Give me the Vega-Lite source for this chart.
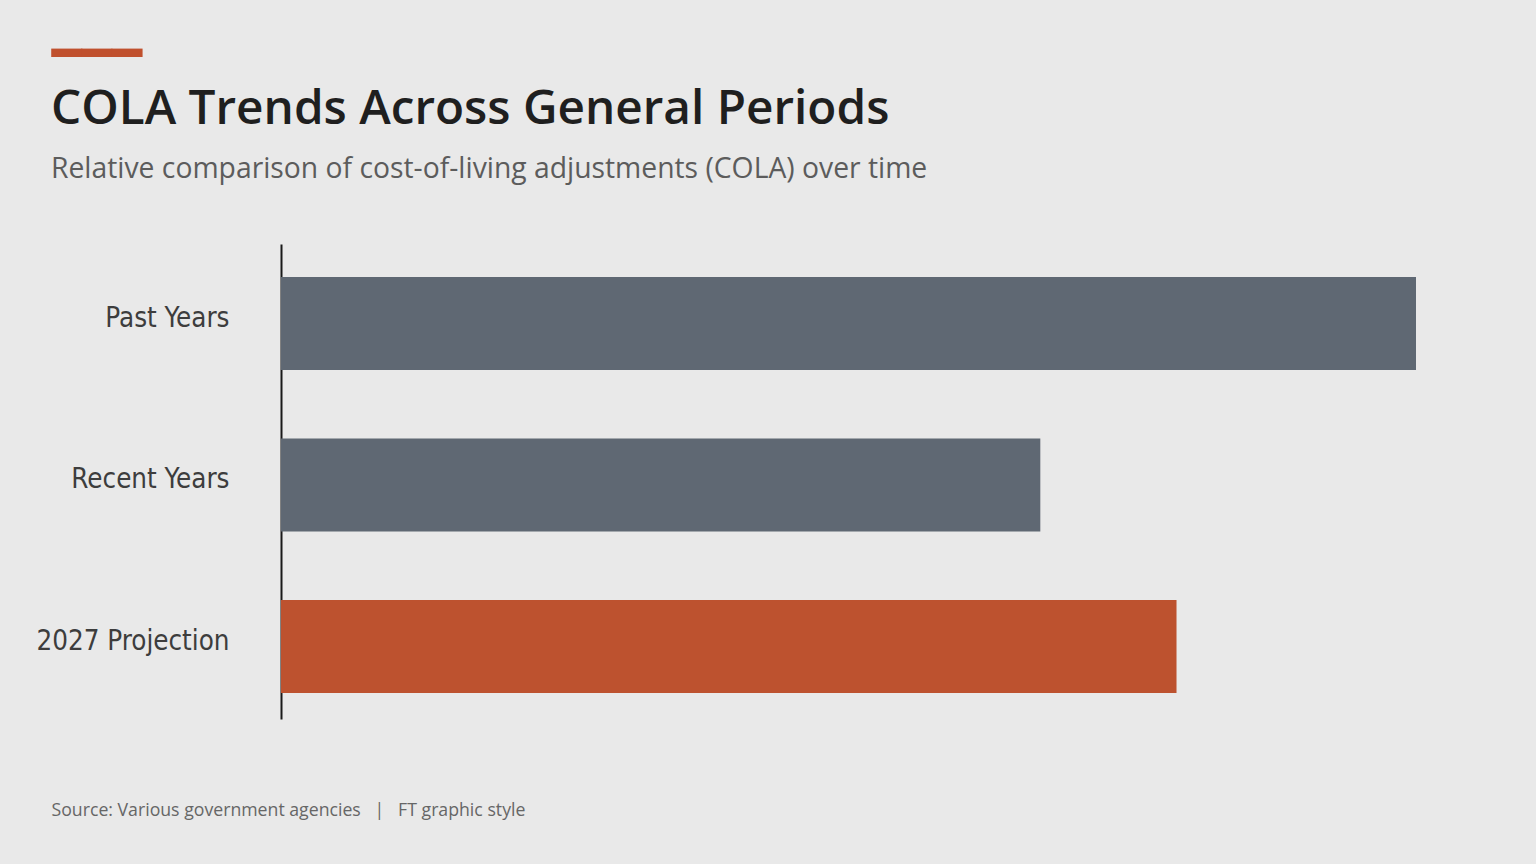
{
  "$schema": "https://vega.github.io/schema/vega-lite/v6.json",
  "autosize": "none",
  "width": 1135,
  "height": 475,
  "padding": {"left": 281, "top": 244, "right": 120, "bottom": 145},
  "background": "#e9e9e9",
  "title": {
    "text": "COLA Trends Across General Periods",
    "subtitle": "Relative comparison of cost-of-living adjustments (COLA) over time",
    "anchor": "start",
    "frame": "group",
    "dx": -230,
    "offset": -154,
    "font": "Open Sans",
    "fontSize": 47.7,
    "fontWeight": 600,
    "color": "#1f1f1f",
    "subtitleFont": "Open Sans",
    "subtitleFontSize": 28.3,
    "subtitleColor": "#5c5c5c",
    "subtitlePadding": 22
  },
  "data": {
    "values": [
      {"period": "Past Years", "index": 100, "kind": "Historical"},
      {"period": "Recent Years", "index": 66.9, "kind": "Historical"},
      {"period": "2027 Projection", "index": 78.9, "kind": "Projection"}
    ]
  },
  "mark": {"type": "bar", "cornerRadius": 0},
  "encoding": {
    "y": {
      "field": "period",
      "type": "nominal",
      "sort": ["Past Years", "Recent Years", "2027 Projection"],
      "scale": {"paddingInner": 0.424, "paddingOuter": 0.183, "align": 0.56},
      "axis": {
        "title": "━━━",
        "titleAngle": 0,
        "titleX": -230,
        "titleY": -190,
        "titleAlign": "left",
        "titleBaseline": "middle",
        "titleFont": "DejaVu Sans",
        "titleFontSize": 50,
        "titleFontWeight": "normal",
        "titleColor": "#c0502d",
        "domain": true,
        "domainColor": "#1a1a1a",
        "domainWidth": 2,
        "ticks": false,
        "grid": false,
        "labelPadding": 52,
        "labelOffset": -5,
        "labelFont": "DejaVu Sans Condensed",
        "labelFontSize": 27.5,
        "labelColor": "#3d3d3d",
        "labelLimit": 400
      }
    },
    "x": {
      "field": "index",
      "type": "quantitative",
      "scale": {"domain": [0, 100], "nice": false},
      "axis": {
        "title": "Source: Various government agencies\u00a0\u00a0\u00a0|\u00a0\u00a0\u00a0FT graphic style",
        "titleX": -230,
        "titleY": 96,
        "titleAlign": "left",
        "titleAnchor": "start",
        "titleBaseline": "alphabetic",
        "titleFont": "Open Sans",
        "titleFontSize": 17.7,
        "titleFontWeight": "normal",
        "titleColor": "#666666",
        "labels": false,
        "ticks": false,
        "domain": false,
        "grid": false
      }
    },
    "color": {
      "field": "kind",
      "type": "nominal",
      "scale": {"domain": ["Historical", "Projection"], "range": ["#5f6873", "#bd522f"]},
      "legend": null
    }
  },
  "config": {"view": {"stroke": null}}
}
